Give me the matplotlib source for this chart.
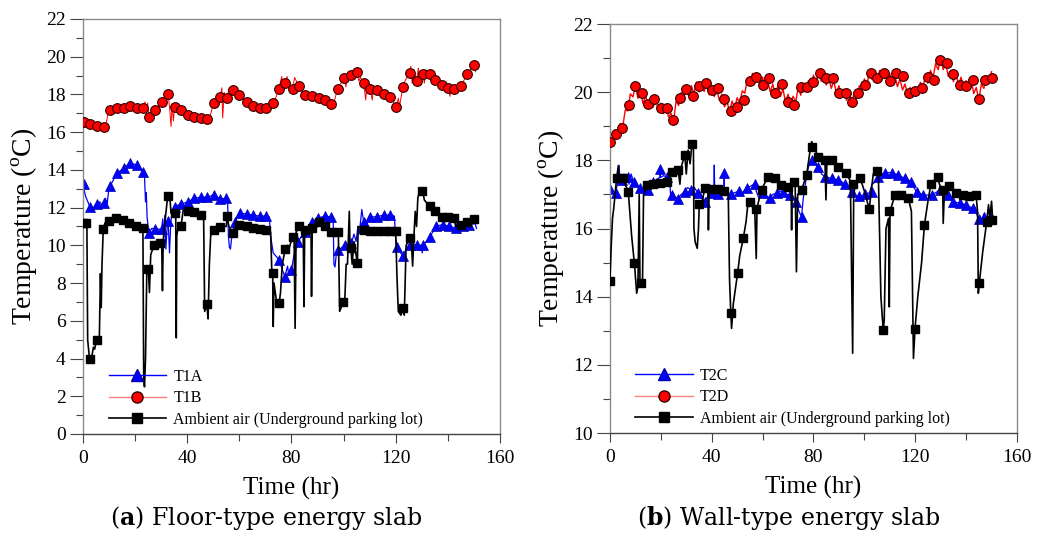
import matplotlib
matplotlib.use("Agg")
import matplotlib.pyplot as plt
from matplotlib.lines import Line2D
from matplotlib.ticker import MultipleLocator

plt.rcParams['font.family'] = ['Liberation Serif', 'DejaVu Serif']
plt.rcParams['mathtext.fontset'] = 'custom'
plt.rcParams['mathtext.bf'] = 'DejaVu Serif:bold'
plt.rcParams['mathtext.rm'] = 'Liberation Serif'

# ---------------- (a) floor-type slab ----------------
t1a_line_t = [0, 1.0, 2.8, 3.5, 4.5, 5.5, 6.5, 7.3, 8.1, 8.6, 9.3, 10.0, 10.5, 13.0, 15.6, 18.0, 20.6, 23.1,
              23.6, 24.0, 24.3, 24.6, 25.3, 26.4, 27.6, 29.2, 30.2, 30.6, 31.0, 31.4, 31.8, 32.3, 32.7, 33.2,
              33.7, 34.2, 35.2, 37.7, 40.2, 42.7, 45.3, 47.7, 50.1, 52.7, 54.9, 55.5, 55.8, 56.2, 56.6, 57.2,
              58.3, 60.2, 62.8, 65.3, 67.8, 70.4, 71.5, 72.0, 73.0, 75.3, 76.5, 77.5, 78.5, 79.0, 80.0, 81.0,
              82.5, 85.1, 87.7, 90.2, 92.8, 95.3, 96.0, 96.3, 96.7, 97.2, 98.0, 100.5, 103.0, 104.0, 104.8,
              105.5, 106.0, 107.0, 107.7, 108.5, 109.0, 110.2, 112.8, 115.4, 117.9, 119.5, 120.0, 120.4, 122.7,
              124.0, 125.6, 128.1, 129.8, 130.2, 130.6, 133.2, 135.4, 138.0, 140.5, 143.1, 145.7, 148.2, 150.5,
              151.0]
t1a_line_y = [13.2, 12.6, 12.0, 11.8, 12.1, 12.2, 12.3, 12.1, 12.26, 12.5, 12.2, 13.1, 13.16, 13.82, 14.08, 14.35,
              14.26, 13.9, 13.7, 12.3, 12.8, 11.5, 10.64, 10.9, 10.88, 10.85, 10.88, 11.4, 10.4, 11.6, 9.8, 11.0,
              11.31, 9.6, 11.2, 11.8, 12.05, 12.2, 12.3, 12.5, 12.55, 12.55, 12.67, 12.45, 12.5, 12.4, 10.5, 9.9,
              9.8, 10.6, 11.25, 11.73, 11.65, 11.6, 11.55, 11.55, 11.5, 10.5, 9.6, 9.22, 8.7, 8.34, 8.9, 8.4,
              8.69, 9.5, 10.19, 10.72, 11.25, 11.43, 11.56, 11.5, 11.4, 9.0, 8.85, 9.5, 9.75, 10.0, 10.1, 10.6,
              10.2, 11.0, 10.6, 11.9, 11.25, 10.6, 11.2, 11.5, 11.52, 11.6, 11.6, 11.55, 10.3, 9.93, 9.43, 9.8,
              10.02, 10.02, 10.0, 9.6, 10.0, 10.46, 11.0, 11.1, 11.0, 10.9, 11.0, 11.1, 11.15, 10.9]
t1a_mark_t = [0.4, 2.8, 5.5, 8.1, 10.5, 13.0, 15.6, 18.0, 20.6, 23.1, 25.3, 27.6, 30.2, 32.7, 35.2, 37.7, 40.2,
              42.7, 45.3, 47.7, 50.1, 52.7, 54.9, 58.3, 60.2, 62.8, 65.3, 67.8, 70.4, 75.3, 77.5, 80.0, 82.5,
              85.1, 87.7, 90.2, 92.8, 95.3, 98.0, 100.5, 103.0, 107.7, 110.2, 112.8, 115.4, 117.9, 120.4, 122.7,
              125.6, 128.1, 130.4, 133.2, 135.4, 138.0, 140.5, 143.1, 145.7, 148.2]
t1a_mark_y = [13.23, 12.02, 12.2, 12.26, 13.16, 13.82, 14.08, 14.35, 14.26, 13.9, 10.64, 10.88, 10.88, 11.31,
              12.05, 12.2, 12.3, 12.5, 12.55, 12.55, 12.67, 12.45, 12.5, 11.25, 11.73, 11.65, 11.6, 11.55, 11.55,
              9.22, 8.34, 8.69, 10.19, 10.72, 11.25, 11.43, 11.56, 11.5, 9.75, 10.0, 10.1, 11.25, 11.5, 11.52,
              11.6, 11.6, 9.93, 9.43, 10.02, 10.02, 10.0, 10.46, 11.0, 11.1, 11.0, 10.9, 11.0, 11.1]

t1b_line_t = [0.4, 2.8, 5.5, 8.1, 8.6, 9.5, 10.5, 13.0, 15.6, 18.0, 20.6, 23.1, 23.8, 24.3, 24.8, 25.3, 25.9,
              26.5, 27.6, 30.2, 32.7, 33.3, 33.8, 34.2, 34.7, 35.2, 37.7, 40.2, 42.7, 45.3, 47.7, 48.5, 50.1,
              52.7, 53.3, 53.6, 54.2, 55.3, 56.0, 56.5, 57.7, 60.0, 62.8, 65.3, 67.8, 70.3, 72.8, 73.5, 75.1,
              76.3, 76.8, 77.7, 78.3, 79.0, 80.5, 81.2, 82.8, 85.2, 87.8, 90.4, 92.9, 95.3, 96.0, 97.7, 99.5,
              100.3, 100.9, 101.5, 102.8, 105.3, 105.8, 106.5, 107.7, 108.5, 109.0, 110.2, 111.0, 111.5, 112.8,
              115.4, 117.8, 119.0, 119.5, 120.2, 121.0, 121.5, 122.8, 123.5, 125.4, 125.8, 126.3, 127.0, 128.0,
              128.7, 129.3, 130.4, 131.0, 131.6, 133.0, 135.1, 137.7, 140.2, 140.8, 141.3, 142.5, 145.1, 147.5,
              150.0, 150.7]
t1b_line_y = [16.54, 16.45, 16.3, 16.25, 16.2, 16.9, 17.15, 17.3, 17.3, 17.4, 17.3, 17.3, 17.6, 17.1, 17.55,
              16.8, 16.5, 17.0, 17.2, 17.6, 18.0, 17.2, 16.3, 17.5, 16.6, 17.35, 17.2, 16.9, 16.8, 16.75, 16.7,
              16.7, 17.55, 17.85, 18.35, 16.75, 18.1, 17.8, 18.3, 17.6, 18.25, 17.95, 17.6, 17.4, 17.3, 17.3,
              17.55, 17.6, 18.3, 18.95, 18.2, 18.6, 18.95, 18.3, 18.3, 18.9, 18.45, 17.95, 17.9, 17.8, 17.7, 17.5,
              17.4, 18.3, 18.7, 18.85, 18.4, 19.0, 19.05, 19.2, 18.7, 18.9, 18.6, 17.7, 18.5, 18.3, 17.7, 18.3,
              18.25, 18.0, 17.85, 17.9, 17.1, 17.35, 17.8, 17.4, 18.4, 18.7, 19.15, 19.5, 18.6, 19.3, 18.7, 19.4,
              18.6, 19.1, 18.6, 19.3, 19.1, 18.75, 18.5, 18.35, 17.9, 18.3, 18.3, 18.45, 19.1, 19.55, 19.2]
t1b_mark_t = [0.4, 2.8, 5.5, 8.1, 10.5, 13.0, 15.6, 18.0, 20.6, 23.1, 25.3, 27.6, 30.2, 32.7, 35.2, 37.7, 40.2,
              42.7, 45.3, 47.7, 50.1, 52.7, 55.3, 57.7, 60.0, 62.8, 65.3, 67.8, 70.3, 72.8, 75.1, 77.7, 80.5,
              82.8, 85.2, 87.8, 90.4, 92.9, 95.3, 97.7, 100.3, 102.8, 105.3, 107.7, 110.2, 112.8, 115.4, 117.8,
              120.2, 122.8, 125.4, 128.0, 130.4, 133.0, 135.1, 137.7, 140.2, 142.5, 145.1, 147.5, 150.0]
t1b_mark_y = [16.54, 16.45, 16.3, 16.25, 17.15, 17.3, 17.3, 17.4, 17.3, 17.3, 16.8, 17.2, 17.6, 18.0, 17.35,
              17.2, 16.9, 16.8, 16.75, 16.7, 17.55, 17.85, 17.8, 18.25, 17.95, 17.6, 17.4, 17.3, 17.3, 17.55,
              18.3, 18.6, 18.3, 18.45, 17.95, 17.9, 17.8, 17.7, 17.5, 18.3, 18.85, 19.05, 19.2, 18.6, 18.3,
              18.25, 18.0, 17.85, 17.35, 18.4, 19.15, 18.7, 19.1, 19.1, 18.75, 18.5, 18.35, 18.3, 18.45, 19.1,
              19.55]

air1_line_t = [0, 1.0, 1.5, 1.8, 2.5, 3.5, 4.0, 4.5, 5.2, 6.0, 6.3, 6.7, 7.0, 7.3, 7.8, 8.5, 10.1, 12.7, 15.0,
               17.5, 20.0, 23.0, 23.3, 23.6, 24.0, 24.5, 25.1, 25.5, 26.0, 27.2, 29.5, 30.2, 30.5, 30.8, 31.5,
               32.5, 33.3, 33.8, 35.0, 35.6, 35.8, 36.0, 36.5, 37.6, 38.5, 40.2, 42.7, 45.3, 46.3, 46.7, 47.5,
               48.0, 48.5, 49.0, 50.1, 52.7, 55.0, 55.3, 56.0, 57.7, 58.5, 60.0, 62.8, 65.3, 67.8, 70.3, 72.0,
               72.5, 72.8, 73.0, 73.3, 74.5, 75.3, 75.8, 76.5, 77.6, 78.5, 79.0, 80.5, 81.0, 81.4, 81.8, 82.8,
               84.5, 84.8, 85.1, 87.5, 87.7, 88.0, 90.4, 92.9, 95.3, 97.5, 98.0, 98.5, 99.9, 100.5, 101.0, 101.5,
               102.2, 102.5, 102.8, 103.3, 104.0, 105.3, 105.6, 107.7, 110.0, 115.0, 117.8, 120.0, 120.5, 121.0,
               122.0, 122.9, 123.3, 124.0, 125.4, 126.0, 126.5, 127.0, 127.5, 128.0, 128.5, 129.3, 130.4, 131.0,
               133.0, 135.1, 137.7, 140.2, 142.5, 143.0, 145.1, 147.5, 150.0, 150.5]
air1_line_y = [11.2, 11.2, 11.1, 5.0, 4.0, 4.2, 4.6, 4.5, 5.0, 5.1, 5.2, 8.5, 6.7, 9.0, 10.9, 11.2, 11.3, 11.45,
               11.35, 11.2, 11.05, 10.9, 3.0, 2.5, 4.0, 8.7, 8.74, 7.5, 9.5, 10.0, 10.1, 10.1, 7.6, 10.3, 11.3,
               12.6, 12.6, 11.7, 11.7, 11.5, 5.1, 10.5, 11.0, 11.0, 11.9, 11.85, 11.75, 11.6, 11.5, 6.5, 6.9, 6.1,
               9.0, 10.5, 10.8, 11.0, 11.0, 11.55, 11.0, 10.65, 11.0, 11.1, 11.0, 10.9, 10.85, 10.8, 10.7, 8.5,
               8.52, 5.7, 8.0, 6.8, 6.93, 7.5, 9.0, 9.8, 10.0, 9.8, 10.5, 10.6, 5.6, 10.7, 11.0, 10.8, 6.75, 10.9,
               10.9, 7.3, 11.0, 11.25, 11.0, 10.7, 10.7, 10.6, 6.5, 7.0, 7.2, 9.0, 9.0, 11.8, 9.8, 9.84, 9.0, 10.2,
               9.05, 11.0, 10.8, 10.75, 10.75, 10.75, 10.75, 8.3, 6.5, 6.3, 6.66, 6.3, 10.0, 10.37, 10.2, 8.9,
               10.5, 11.8, 11.0, 12.5, 13.0, 12.85, 12.4, 12.07, 11.84, 11.5, 11.5, 11.45, 11.0, 11.1, 11.26, 11.37,
               11.5]
air1_mark_t = [0.3, 1.3, 2.7, 5.2, 7.8, 10.1, 12.7, 15.2, 17.6, 20.2, 23.1, 25.1, 27.2, 29.5, 32.7, 35.3, 37.6,
               40.2, 42.7, 45.3, 47.7, 50.1, 52.7, 55.3, 57.7, 60.0, 62.8, 65.3, 67.8, 70.3, 72.8, 75.3, 77.6,
               80.5, 82.8, 85.2, 87.8, 90.4, 92.9, 95.3, 97.7, 99.9, 102.8, 105.3, 107.7, 110.2, 112.8, 115.4,
               117.8, 120.2, 122.9, 125.4, 130.2, 133.0, 135.1, 137.7, 140.2, 142.5, 145.1, 147.5, 150.0]
air1_mark_y = [11.17, 11.17, 3.96, 4.98, 10.87, 11.3, 11.43, 11.35, 11.2, 11.05, 10.9, 8.74, 10.0, 10.1, 12.6,
               11.7, 11.0, 11.84, 11.75, 11.6, 6.87, 10.81, 10.95, 11.55, 10.64, 11.1, 11.0, 10.9, 10.85, 10.8,
               8.52, 6.93, 9.79, 10.46, 11.0, 10.8, 10.9, 11.25, 11.0, 10.7, 10.7, 7.01, 9.84, 9.05, 10.8, 10.75,
               10.75, 10.75, 10.75, 10.75, 6.66, 10.37, 12.9, 12.07, 11.84, 11.5, 11.5, 11.45, 11.08, 11.26, 11.37]

# ---------------- (b) wall-type slab ----------------
t2c_line_t = [0, 1.0, 2.2, 3.3, 3.6, 3.9, 4.6, 5.5, 7.0, 7.5, 8.3, 9.3, 10.5, 11.8, 13.0, 14.8, 17.0, 18.5,
              19.65, 19.75, 19.85, 21.0, 22.3, 23.5, 23.8, 24.2, 26.8, 28.0, 29.4, 30.5, 32.0, 32.6, 33.2, 34.6,
              36.0, 37.3, 38.5, 39.8, 40.8, 41.0, 41.2, 42.3, 43.5, 44.8, 44.9, 45.0, 46.0, 47.5, 49.0, 50.8,
              52.0, 53.7, 55.5, 56.9, 57.5, 58.5, 60.2, 61.5, 62.8, 64.0, 65.5, 66.8, 68.1, 69.5, 70.7, 72.0,
              73.3, 74.3, 75.3, 76.0, 77.0, 78.0, 79.3, 80.5, 81.9, 83.2, 84.5, 87.1, 89.8, 92.4, 93.8, 95.0,
              96.4, 97.7, 99.0, 100.3, 102.0, 103.0, 104.0, 105.5, 108.1, 110.7, 113.3, 115.9, 118.5, 119.5,
              120.5, 123.1, 126.4, 128.0, 129.6, 131.3, 132.9, 134.8, 137.4, 140.1, 142.7, 144.0, 145.0, 146.5,
              147.2, 147.5, 149.9, 150.3]
t2c_line_y = [17.15, 17.1, 17.03, 17.5, 17.85, 17.4, 17.42, 17.6, 17.52, 17.3, 17.6, 17.37, 17.25, 17.18, 17.05,
              17.13, 17.37, 17.45, 17.5, 17.74, 17.5, 17.55, 17.52, 17.4, 17.0, 16.98, 16.88, 17.0, 17.08, 17.2,
              17.13, 17.0, 17.2, 17.03, 16.9, 16.79, 16.95, 17.03, 17.0, 17.86, 17.0, 17.0, 17.05, 17.1, 17.62,
              17.1, 17.05, 17.0, 17.05, 17.1, 17.05, 17.18, 17.25, 17.32, 17.1, 16.9, 17.03, 16.95, 16.89, 17.0,
              17.03, 17.1, 17.08, 17.0, 16.98, 16.9, 16.79, 16.5, 16.35, 16.9, 17.4, 17.8, 18.0, 17.95, 17.8,
              17.6, 17.52, 17.47, 17.42, 17.32, 17.2, 17.08, 16.95, 16.94, 16.85, 17.0, 17.05, 17.3, 17.35,
              17.52, 17.64, 17.64, 17.57, 17.47, 17.37, 17.2, 17.08, 16.98, 16.98, 17.05, 17.13, 17.05, 16.98,
              16.79, 16.74, 16.69, 16.59, 16.45, 16.27, 16.3, 16.45, 16.25, 16.33, 16.45]
t2c_mark_t = [0, 2.2, 4.6, 7.0, 9.3, 11.8, 14.8, 17.0, 19.7, 22.3, 24.2, 26.8, 29.4, 32.0, 34.6, 37.3, 39.8,
              42.3, 44.9, 47.5, 50.8, 53.7, 56.9, 60.2, 62.8, 65.5, 68.1, 70.7, 73.3, 75.3, 79.3, 81.9, 84.5,
              87.1, 89.8, 92.4, 95.0, 97.7, 100.3, 102.9, 105.5, 108.1, 110.7, 113.3, 115.9, 118.5, 120.5, 123.1,
              126.4, 129.6, 132.9, 134.8, 137.4, 140.1, 142.7, 145.0, 147.2, 149.9]
t2c_mark_y = [17.15, 17.03, 17.42, 17.52, 17.37, 17.18, 17.13, 17.37, 17.74, 17.52, 16.98, 16.88, 17.08, 17.13,
              17.03, 16.79, 17.03, 17.0, 17.62, 17.0, 17.1, 17.18, 17.32, 17.03, 16.89, 17.03, 17.08, 16.98,
              16.79, 16.35, 18.0, 17.8, 17.52, 17.47, 17.42, 17.32, 17.08, 16.94, 17.0, 17.08, 17.52, 17.64,
              17.64, 17.57, 17.47, 17.37, 17.08, 16.98, 16.98, 17.13, 16.98, 16.79, 16.74, 16.69, 16.59, 16.27,
              16.33, 16.33]

# hourly readings of T2D (fluctuating record)
t2d_line_t = list(range(0, 151))
t2d_line_y = [18.55, 18.60, 18.90, 18.72, 19.08, 18.97, 19.48, 19.45, 19.95, 19.86, 20.18, 19.82, 20.03, 19.66,
              19.90, 19.57, 19.84, 19.56, 19.80, 19.46, 19.68, 19.37, 19.64, 19.27, 19.38, 19.15, 19.74, 19.61,
              19.99, 19.82, 20.14, 19.86, 20.19, 19.96, 20.30, 20.01, 20.28, 20.02, 20.24, 19.92, 20.14, 19.87,
              20.08, 19.76, 19.94, 19.57, 19.74, 19.42, 19.74, 19.51, 19.84, 19.66, 20.04, 19.97, 20.39, 20.21,
              20.55, 20.26, 20.49, 20.16, 20.44, 20.12, 20.34, 20.01, 20.24, 19.92, 20.19, 19.87, 20.09, 19.72,
              19.94, 19.66, 19.88, 19.71, 20.14, 19.91, 20.24, 20.01, 20.34, 20.16, 20.50, 20.26, 20.60, 20.32,
              20.54, 20.21, 20.44, 20.11, 20.34, 19.96, 20.19, 19.86, 20.09, 19.76, 19.99, 19.66, 19.99, 19.82,
              20.19, 20.02, 20.39, 20.21, 20.60, 20.37, 20.64, 20.36, 20.64, 20.36, 20.59, 20.31, 20.54, 20.26,
              20.49, 20.16, 20.39, 20.06, 20.24, 19.91, 20.14, 19.86, 20.14, 19.91, 20.29, 20.11, 20.49, 20.26,
              20.64, 20.41, 20.84, 20.66, 20.99, 20.66, 20.84, 20.46, 20.64, 20.31, 20.54, 20.21, 20.44, 20.11,
              20.34, 20.06, 20.34, 19.96, 20.14, 19.76, 20.24, 20.11, 20.49, 20.26, 20.60]
t2d_mark_t = [0, 2.2, 4.7, 7.3, 9.8, 12.4, 14.9, 17.4, 19.9, 22.3, 24.9, 27.5, 30.0, 32.5, 35.0, 37.6, 40.0,
              42.5, 44.9, 47.4, 50.0, 52.5, 55.0, 57.5, 60.0, 62.5, 65.0, 67.5, 70.0, 72.4, 75.0, 77.4, 79.9,
              82.5, 85.0, 87.5, 90.0, 92.6, 95.1, 97.6, 100.1, 102.6, 105.1, 107.6, 109.9, 112.4, 115.1, 117.5,
              120.0, 122.5, 125.1, 127.5, 129.8, 132.5, 135.0, 137.5, 140.1, 142.6, 145.0, 147.5, 150.0]
t2d_mark_y = [18.53, 18.77, 18.96, 19.62, 20.19, 19.97, 19.65, 19.79, 19.53, 19.53, 19.18, 19.84, 20.09, 19.9,
              20.19, 20.26, 20.06, 20.11, 19.79, 19.46, 19.57, 19.77, 20.33, 20.44, 20.21, 20.41, 19.98, 20.24,
              19.72, 19.62, 20.14, 20.14, 20.31, 20.57, 20.41, 20.41, 19.98, 19.98, 19.70, 19.98, 20.21, 20.55,
              20.41, 20.57, 20.33, 20.55, 20.47, 19.98, 20.03, 20.11, 20.44, 20.36, 20.94, 20.85, 20.53, 20.21,
              20.18, 20.36, 19.79, 20.35, 20.41]

air2_line_t = [0, 0.5, 1.0, 1.5, 2.0, 2.6, 3.3, 3.6, 5.2, 6.0, 7.2, 7.8, 8.5, 9.6, 10.5, 11.0, 11.5, 11.8, 12.2,
               12.8, 13.2, 14.6, 17.0, 20.0, 22.3, 23.5, 24.2, 26.8, 27.5, 28.0, 29.4, 30.0, 30.7, 31.5, 32.2,
               32.8, 33.0, 33.5, 34.3, 34.8, 35.1, 36.0, 37.3, 38.5, 38.7, 39.0, 42.0, 45.0, 46.5, 47.0, 47.5,
               47.8, 48.5, 50.2, 51.0, 52.4, 53.5, 54.3, 55.5, 56.9, 57.5, 57.8, 59.5, 62.1, 64.8, 67.4, 70.0,
               71.2, 71.4, 71.6, 72.0, 72.8, 73.3, 73.8, 75.3, 77.3, 78.5, 79.3, 80.0, 81.9, 84.5, 84.9, 85.3,
               87.1, 89.8, 92.8, 94.5, 95.4, 95.8, 96.5, 98.4, 100.0, 101.9, 103.5, 104.8, 105.5, 106.5, 107.4,
               107.8, 108.5, 109.5, 109.8, 110.1, 112.0, 115.0, 117.3, 118.5, 119.3, 119.9, 121.0, 122.5, 123.6,
               125.0, 126.2, 128.8, 129.5, 130.8, 131.0, 131.5, 133.4, 136.0, 138.6, 141.3, 143.9, 144.5, 144.8,
               145.2, 146.5, 148.1, 148.8, 149.3, 150.0, 150.4]
air2_line_y = [14.5, 15.5, 16.3, 16.6, 17.0, 17.47, 17.85, 17.4, 17.47, 17.3, 17.08, 16.5, 15.8, 14.98, 14.1,
               14.3, 17.0, 14.4, 14.41, 14.5, 17.0, 17.28, 17.3, 17.33, 17.35, 17.4, 17.67, 17.72, 17.3, 17.8,
               18.16, 17.6, 18.3, 17.9, 18.48, 18.48, 16.0, 15.6, 15.42, 16.0, 16.72, 16.7, 17.18, 17.15, 15.96,
               17.15, 17.15, 17.1, 17.0, 14.5, 13.53, 13.07, 13.8, 14.7, 15.2, 15.71, 16.2, 16.79, 16.8, 16.56,
               15.12, 16.6, 17.13, 17.52, 17.47, 17.28, 17.23, 17.2, 15.96, 17.2, 17.37, 17.3, 14.73, 17.0, 17.13,
               17.57, 18.2, 18.55, 18.4, 18.11, 18.01, 16.84, 18.0, 18.0, 17.81, 17.62, 17.4, 12.34, 17.0, 17.3,
               17.47, 17.1, 16.57, 17.6, 17.7, 17.6, 14.0, 13.02, 13.3, 16.0, 16.3, 13.7, 16.5, 16.98, 16.95,
               16.89, 16.5, 12.19, 13.04, 14.0, 15.0, 16.1, 16.8, 17.32, 17.52, 17.3, 17.13, 16.15, 17.2, 17.25,
               17.05, 16.98, 16.94, 16.98, 16.5, 14.1, 14.41, 15.3, 16.2, 16.7, 16.3, 16.8, 16.3]
air2_mark_t = [0, 2.6, 5.2, 7.2, 9.6, 12.2, 14.6, 17.0, 19.5, 22.3, 24.2, 26.8, 29.4, 32.2, 35.1, 37.3, 39.8,
               42.3, 44.8, 47.5, 50.2, 52.4, 54.9, 57.3, 59.9, 62.1, 64.8, 67.4, 70.0, 72.3, 75.3, 77.3, 79.6,
               81.9, 84.5, 87.1, 89.8, 92.8, 95.5, 98.4, 101.9, 104.8, 107.4, 109.8, 112.0, 114.6, 117.3, 119.9,
               123.6, 126.2, 128.8, 130.8, 133.4, 136.0, 138.6, 141.3, 143.9, 145.2, 148.1, 150.0]
air2_mark_y = [14.47, 17.47, 17.47, 17.08, 14.98, 14.41, 17.28, 17.3, 17.33, 17.35, 17.67, 17.72, 18.16, 18.48,
               16.72, 17.18, 17.15, 17.15, 17.1, 13.53, 14.7, 15.71, 16.79, 16.56, 17.13, 17.52, 17.47, 17.28,
               17.23, 17.37, 17.13, 17.57, 18.4, 18.11, 18.01, 18.0, 17.81, 17.62, 17.3, 17.47, 16.57, 17.7,
               13.02, 16.5, 16.98, 16.98, 16.89, 13.04, 16.1, 17.32, 17.52, 17.13, 17.25, 17.05, 16.98, 16.94,
               16.98, 14.41, 16.2, 16.25]

labels_a = ['T1A', 'T1B', 'Ambient air (Underground parking lot)']
labels_b = ['T2C', 'T2D', 'Ambient air (Underground parking lot)']

fig = plt.figure(figsize=(10.45, 5.42), dpi=100)
ax1 = fig.add_axes([0.0794, 0.1993, 0.399, 0.7657])
ax2 = fig.add_axes([0.5837, 0.2011, 0.3895, 0.7546])


def draw_panel(ax, blue, red, black, labels, ylim, red_lw):
    ax.plot(blue[0], blue[1], color='#0000ff', lw=0.9, zorder=2)
    ax.plot(blue[2], blue[3], ls='none', marker='^', ms=7, color='#0000ff', mec='#0000aa', mew=0.5, zorder=2)
    ax.plot(red[0], red[1], color='#ff0000', lw=red_lw, zorder=3)
    ax.plot(red[2], red[3], ls='none', marker='o', ms=7, color='#ff0000', mec='#330000', mew=0.8, zorder=3)
    ax.plot(black[0], black[1], color='black', lw=1.2, zorder=4)
    ax.plot(black[2], black[3], ls='none', marker='s', ms=6.3, color='black', zorder=4)

    ax.set_xlim(0, 160)
    ax.set_ylim(*ylim)
    ax.xaxis.set_major_locator(MultipleLocator(40))
    ax.xaxis.set_minor_locator(MultipleLocator(20))
    ax.yaxis.set_major_locator(MultipleLocator(2))
    ax.yaxis.set_minor_locator(MultipleLocator(1))
    ax.tick_params(axis='y', which='major', direction='out', length=9.5, width=0.8, color='#444444',
                   labelsize=14, pad=3)
    ax.tick_params(axis='y', which='minor', direction='out', length=5, width=0.8, color='#444444')
    ax.tick_params(axis='x', which='major', direction='out', length=6.5, width=0.8, color='#444444',
                   labelsize=14, pad=5)
    ax.tick_params(axis='x', which='minor', direction='out', length=5, width=0.8, color='#444444')
    for s in ax.spines.values():
        s.set_color('#8a8a8a')
        s.set_linewidth(1.0)
    ax.spines['bottom'].set_color('#444444')
    ax.set_xlabel('Time (hr)', fontsize=18, labelpad=7)
    ax.set_ylabel(r'Temperature ($^{\mathrm{o}}$C)', fontsize=20, labelpad=4)

    handles = [
        Line2D([], [], color='#0000ff', lw=1.0, marker='^', ms=8, mec='#0000aa'),
        Line2D([], [], color='#ff8080', lw=1.0, marker='o', ms=8, mfc='#ff0000', mec='#330000'),
        Line2D([], [], color='black', lw=1.2, marker='s', ms=7.5),
    ]
    ax.legend(handles, labels, loc='lower left', bbox_to_anchor=(0.035, -0.012), frameon=False,
              fontsize=11.5, handlelength=3.6, handletextpad=0.45, labelspacing=0.35, borderaxespad=0.3)


draw_panel(ax1, (t1a_line_t, t1a_line_y, t1a_mark_t, t1a_mark_y),
           (t1b_line_t, t1b_line_y, t1b_mark_t, t1b_mark_y),
           (air1_line_t, air1_line_y, air1_mark_t, air1_mark_y), labels_a, (0, 22), 0.7)
draw_panel(ax2, (t2c_line_t, t2c_line_y, t2c_mark_t, t2c_mark_y),
           (t2d_line_t, t2d_line_y, t2d_mark_t, t2d_mark_y),
           (air2_line_t, air2_line_y, air2_mark_t, air2_mark_y), labels_b, (10, 22), 1.0)

fig.text(0.255, 0.044, r'($\mathbf{a}$) Floor-type energy slab', ha='center', va='center',
         fontsize=17, family='DejaVu Serif')
fig.text(0.755, 0.044, r'($\mathbf{b}$) Wall-type energy slab', ha='center', va='center',
         fontsize=17, family='DejaVu Serif')

fig.savefig('out.png', dpi=100)
